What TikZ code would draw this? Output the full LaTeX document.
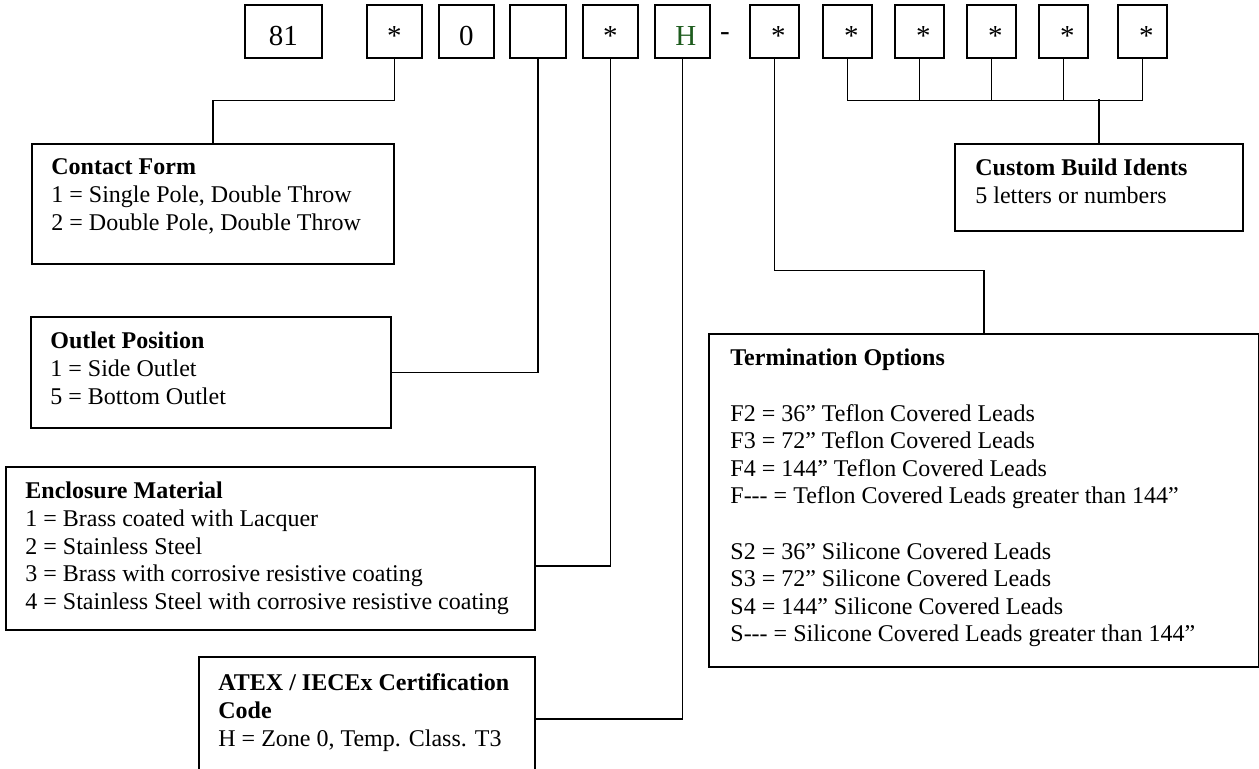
\documentclass[tikz,border=0pt]{standalone}
\usepackage{fontspec}
\setmainfont{Liberation Serif}
\definecolor{hgreen}{HTML}{1E5C1E}
\newcommand\lns[1]{\begin{tabular}[t]{@{}l@{}}#1\end{tabular}}
\newcommand\hy{-\kern0pt-\kern0pt-}
\begin{document}
\begin{tikzpicture}[x=0.5pt,y=-0.5pt,
  frame/.style={draw, line width=0.85pt, inner sep=0pt, anchor=north west},
  digit/.style={frame, font=\fontsize{14.5}{16}\selectfont, text height=16pt, text depth=1.5pt, minimum height=26.5pt},
  conn/.style={line width=0.7pt},
  txt/.style={anchor=base west, inner sep=0pt, font=\fontsize{12}{13.8}\selectfont}]
\useasboundingbox (0,0) rectangle (1259,769);
\fill[white] (0,0) rectangle (1259,769);

% code boxes
\node[digit, minimum width=38.5pt] (b81) at (244,4) {81};
\node[digit, minimum width=27.5pt] (bA) at (366,4) {*};
\node[digit, minimum width=27.5pt] (b0) at (438,4) {0};
\node[digit, minimum width=28pt] (bE) at (509,4) {};
\node[digit, minimum width=27.5pt] (bB) at (582,4) {*};
\node[digit, minimum width=27.5pt, text=hgreen] (bH) at (654,4) {\hspace*{3.5pt}H};
\node[anchor=base, inner sep=0pt, font=\fontsize{14.5}{16}\selectfont] (dash) at (725,41) {-};
\node[digit, minimum width=24.5pt] (c1) at (749,4) {\hspace*{4pt}*};
\node[digit, minimum width=24.5pt] (c2) at (822,4) {\hspace*{4pt}*};
\node[digit, minimum width=24.5pt] (c3) at (894,4) {\hspace*{4pt}*};
\node[digit, minimum width=24.5pt] (c4) at (966,4) {\hspace*{4pt}*};
\node[digit, minimum width=24.5pt] (c5) at (1038,4) {\hspace*{4pt}*};
\node[digit, minimum width=24.5pt] (c6) at (1117,4) {\hspace*{4pt}*};

% description boxes
\node[frame, minimum width=181pt, minimum height=60pt] (cf) at (31,143) {};
\node[txt] (cfT) at (51,175) {\lns{\textbf{Contact Form}\\1 = Single Pole, Double Throw\\2 = Double Pole, Double Throw}};

\node[frame, minimum width=180pt, minimum height=55.5pt] (op) at (30,316) {};
\node[txt] (opT) at (50,349) {\lns{\textbf{Outlet Position}\\1 = Side Outlet\\5 = Bottom Outlet}};

\node[frame, minimum width=264.5pt, minimum height=81.5pt] (em) at (5,466) {};
\node[txt] (emT) at (25,499) {\lns{\textbf{Enclosure Material}\\1 = Brass coated with Lacquer\\2 = Stainless Steel\\3 = Brass with corrosive resistive coating\\4 = Stainless Steel with corrosive resistive coating}};

\node[frame, minimum width=168pt, minimum height=67pt] (at) at (198,656) {};
\node[txt] (atT) at (218,691) {\lns{\textbf{ATEX / IECEx Certification}\\\textbf{Code}\\H = Zone 0, Temp. Class. T3}};

\node[frame, minimum width=275pt, minimum height=166.5pt] (to) at (708,333) {};
\node[txt] (toT) at (730,366) {\lns{\textbf{Termination Options}\\ \\F2 = 36” Teflon Covered Leads\\F3 = 72” Teflon Covered Leads\\F4 = 144” Teflon Covered Leads\\F\hy{} = Teflon Covered Leads greater than 144”\\ \\S2 = 36” Silicone Covered Leads\\S3 = 72” Silicone Covered Leads\\S4 = 144” Silicone Covered Leads\\S\hy{} = Silicone Covered Leads greater than 144”}};

\node[frame, minimum width=144pt, minimum height=43.5pt] (cb) at (954,143) {};
\node[txt] (cbT) at (975,176) {\lns{\textbf{Custom Build Idents}\\5 letters or numbers}};

% connectors
\draw[conn] (bA.south) -- ++(0,42) -| (cf.north);
\draw[conn] (bE.south) |- (op.east);
\draw[conn] (bB.south) |- (em.east |- 0,566);
\draw[conn] (bH.south) |- (at.east |- 0,719);
\draw[conn] (c1.south) -- ++(0,212) -| (to.north);
\draw[conn] (c2.south) -- ++(0,42) -| (c6.south);
\draw[conn] (c3.south) -- ++(0,42);
\draw[conn] (c4.south) -- ++(0,42);
\draw[conn] (c5.south) -- ++(0,42);
\draw[conn] (cb.north) -- ++(0,-44);
\end{tikzpicture}
\end{document}
